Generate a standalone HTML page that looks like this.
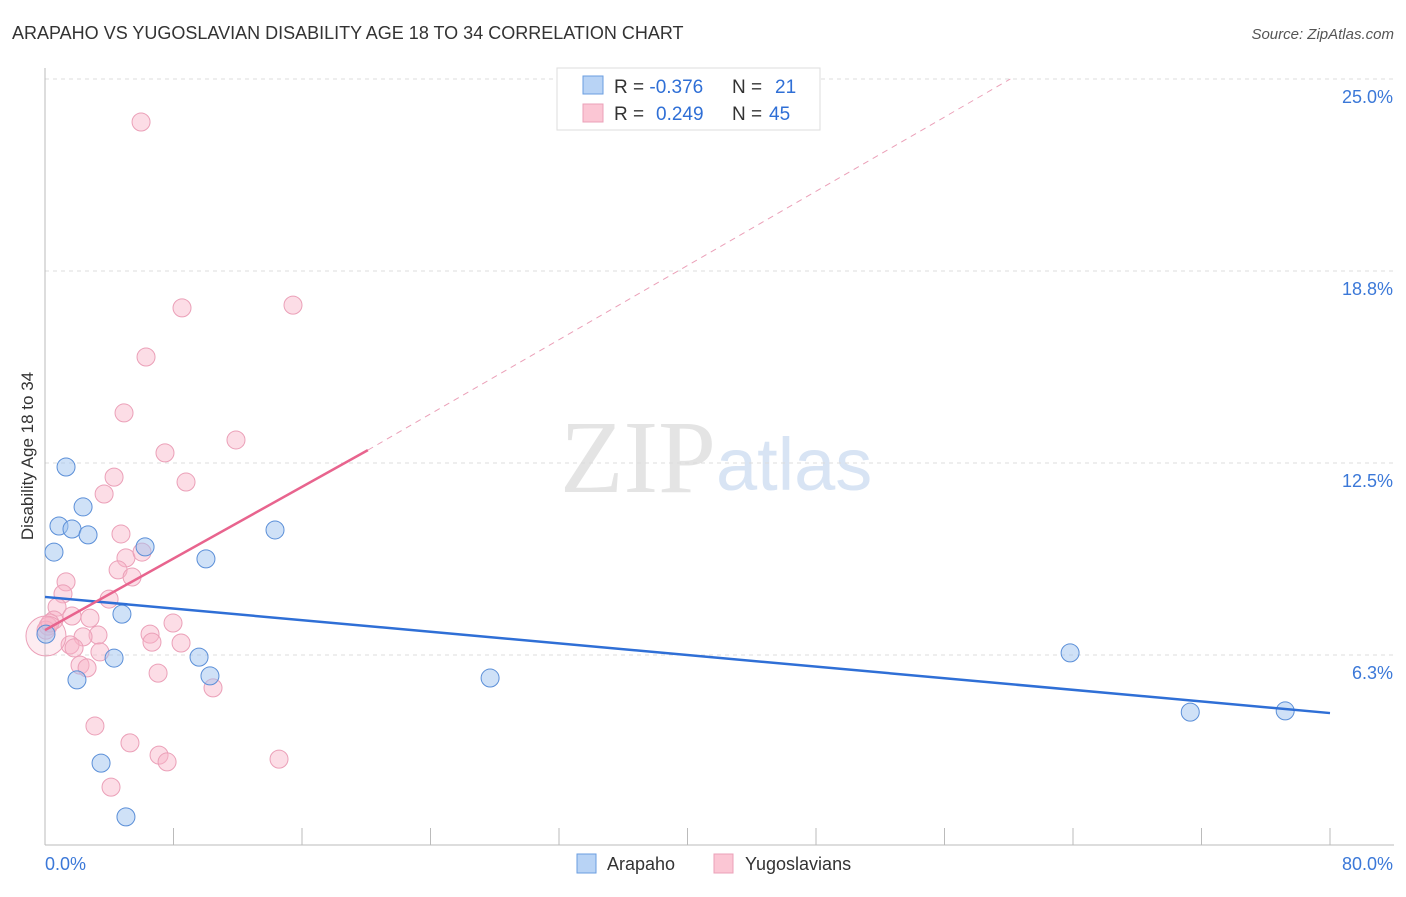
<!DOCTYPE html>
<html><head><meta charset="utf-8"><style>
body{margin:0;background:#fff;font-family:"Liberation Sans",sans-serif}
</style></head><body>
<svg id="c" width="1406" height="892" xmlns="http://www.w3.org/2000/svg">
<text x="12" y="39" font-size="18" fill="#333">ARAPAHO VS YUGOSLAVIAN DISABILITY AGE 18 TO 34 CORRELATION CHART</text>
<text x="1394" y="39" font-size="15" fill="#555" font-style="italic" text-anchor="end">Source: ZipAtlas.com</text>
<text x="716" y="492" font-size="104" fill="#e4e4e4" font-family="Liberation Serif" text-anchor="end">ZIP</text>
<text x="716" y="490" font-size="74" fill="#d8e4f4">atlas</text>
<text transform="translate(33,456) rotate(-90)" font-size="17" fill="#333" text-anchor="middle">Disability Age 18 to 34</text>
<g id="grid"></g><g id="pts"></g><g id="lines"></g>
<g>
<rect x="557" y="68" width="263" height="62" fill="#fff" stroke="#ddd"/>
<rect x="583" y="76" width="20" height="18" fill="#b8d3f5" stroke="#6a9ee0"/>
<rect x="583" y="104" width="20" height="18" fill="#fbc6d4" stroke="#eba0b8"/>
<text x="614" y="93" font-size="19" fill="#333">R = <tspan fill="#2f6fd6">-0.376</tspan><tspan x="732">N = </tspan><tspan fill="#2f6fd6" x="775">21</tspan></text>
<text x="614" y="120" font-size="19" fill="#333">R = <tspan fill="#2f6fd6" x="656">0.249</tspan><tspan x="732">N = </tspan><tspan fill="#2f6fd6" x="769">45</tspan></text>
</g>
<g>
<rect x="577" y="854" width="19" height="19" fill="#b8d3f5" stroke="#6a9ee0"/>
<text x="607" y="870" font-size="18" fill="#333">Arapaho</text>
<rect x="714" y="854" width="19" height="19" fill="#fbc6d4" stroke="#eba0b8"/>
<text x="745" y="870" font-size="18" fill="#333">Yugoslavians</text>
</g>
</svg>
<script>
const yTicks=[6.25,12.5,18.75,25];
const yTickLabels=["6.3%","12.5%","18.8%","25.0%"];
const xTicks=[0,8,16,24,32,40,48,56,64,72,80];
const arapahoX=[1.31,0.87,1.68,2.37,2.68,0.56,6.23,10.02,14.32,4.79,4.30,9.59,10.27,1.99,27.71,3.49,5.04,63.82,71.30,77.21,0.06];
const arapahoY=[12.37,10.45,10.35,11.07,10.16,9.60,9.77,9.38,10.32,7.58,6.15,6.18,5.57,5.44,5.50,2.73,0.98,6.32,4.39,4.43,6.93];
const yugoX=[5.98,8.53,15.44,6.29,4.92,11.89,7.47,8.78,4.30,3.68,4.73,5.04,6.04,4.55,5.42,1.31,1.12,3.99,0.75,1.68,2.80,0.56,0.19,7.97,6.54,6.66,8.47,3.30,2.37,1.56,1.81,3.42,2.18,2.62,7.04,10.46,3.11,5.29,7.10,7.60,14.57,4.11,0.06,0.31,0.06];
const yugoY=[23.60,17.55,17.64,15.95,14.13,13.25,12.83,11.88,12.04,11.49,10.19,9.41,9.60,9.02,8.79,8.63,8.24,8.07,7.81,7.52,7.45,7.39,7.19,7.29,6.93,6.67,6.64,6.90,6.84,6.58,6.48,6.35,5.92,5.83,5.66,5.18,3.94,3.39,2.99,2.77,2.86,1.95,7.06,7.29,6.87];
const arapahoTrend=[8.14,4.36];
const yugoTrend=[7.06,0.2915];
const X=v=>45+v*16.0625, Y=v=>847-v*30.72;
const NS="http://www.w3.org/2000/svg";
function mk(p,t,a){const e=document.createElementNS(NS,t);for(const k in a)e.setAttribute(k,a[k]);p.appendChild(e);return e;}
const svg=document.getElementById('c'),grid=document.getElementById('grid'),pts=document.getElementById('pts'),lines=document.getElementById('lines');
yTicks.forEach((t,i)=>{
 const l=mk(grid,'line',{x1:45,x2:1394,y1:Y(t),y2:Y(t),stroke:'#ddd','stroke-dasharray':'4,4'});
 
 
 const tx=mk(grid,'text',{x:1393,y:Y(t)+24,'font-size':18,fill:'#3b78d8','text-anchor':'end'});tx.textContent=yTickLabels[i];
 
 
});
const ax=mk(grid,'line',{x1:45,x2:45,y1:68,y2:845,stroke:'#bbb'});


const bx=mk(grid,'line',{x1:45,x2:1394,y1:845,y2:845,stroke:'#bbb'});


xTicks.forEach(t=>{const l=mk(grid,'line',{x1:X(t),x2:X(t),y1:828,y2:845,stroke:'#bbb'});
 
 });
[["0.0%",45,'start'],["80.0%",1393,'end']].forEach(a=>{const t=mk(grid,'text',{x:a[1],y:870,'font-size':18,fill:'#3b78d8','text-anchor':a[2]});t.textContent=a[0];
 
 });
yugoX.forEach((x,i)=>{const big=i===yugoX.length-1;
 const c=mk(pts,'circle',{cx:X(x),cy:Y(yugoY[i]),r:big?20:9,fill:big?'rgba(248,180,200,0.25)':'rgba(248,180,200,0.45)',stroke:'#eba0b8','stroke-width':1});
 
 });
arapahoX.forEach((x,i)=>{const c=mk(pts,'circle',{cx:X(x),cy:Y(arapahoY[i]),r:9,fill:'rgba(160,196,240,0.5)',stroke:'#5b8fd8','stroke-width':1});
 
 });
const bl=mk(lines,'line',{x1:X(0),y1:Y(arapahoTrend[0]),x2:X(80),y2:Y(arapahoTrend[1]),stroke:'#2f6fd6','stroke-width':2.5});


const xe=60.1;
const pd=mk(lines,'line',{x1:X(20.1),y1:Y(yugoTrend[0]+yugoTrend[1]*20.1),x2:X(xe),y2:Y(25),stroke:'#eba0b8','stroke-width':1,'stroke-dasharray':'6,5'});


const pl=mk(lines,'line',{x1:X(0),y1:Y(yugoTrend[0]),x2:X(20.1),y2:Y(yugoTrend[0]+yugoTrend[1]*20.1),stroke:'#e8648e','stroke-width':2.5});


</script>
</body></html>
